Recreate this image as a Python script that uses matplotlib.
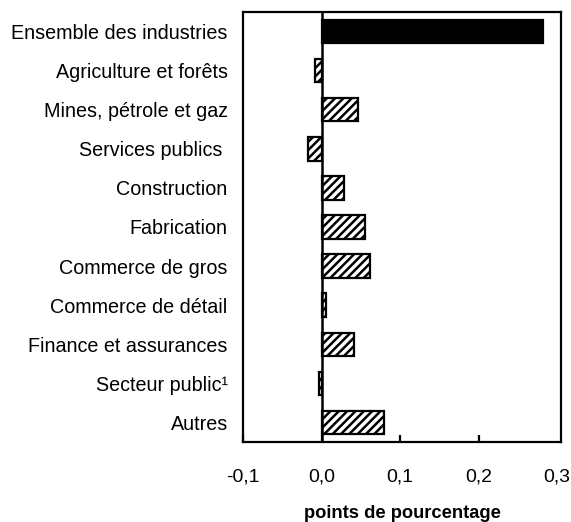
import numpy as np
import matplotlib
matplotlib.use('Agg')
import matplotlib.pyplot as plt
from matplotlib.ticker import FuncFormatter

plt.rcParams['font.family'] = ['Liberation Sans', 'DejaVu Sans']
plt.rcParams['hatch.linewidth'] = 1.8

# Data
industries = ['Ensemble des industries', 'Agriculture et forêts', 'Mines, pétrole et gaz',
              'Services publics ', 'Construction', 'Fabrication', 'Commerce de gros',
              'Commerce de détail', 'Finance et assurances', 'Secteur public¹', 'Autres']
points = [0.282, -0.008, 0.046, -0.017, 0.028, 0.056, 0.062, 0.006, 0.042, -0.003, 0.080]
xticks = [-0.1, 0.0, 0.1, 0.2, 0.3]

fig = plt.figure(figsize=(5.71, 5.22), dpi=100)
ax = fig.add_axes([243 / 571, 0.1533, 318 / 571, 0.8237])

y = np.arange(len(industries))
bars = ax.barh(y, points, height=0.6, color='white', edgecolor='black',
               linewidth=1.6, hatch='////')
bars[0].set_facecolor('black')
bars[0].set_hatch(None)

ax.axvline(0, color='black', linewidth=1.8)

ax.set_ylim(len(industries) - 0.5, -0.5)
ax.set_xlim(-0.1, 0.305)
ax.set_yticks(y)
ax.set_yticklabels(industries, fontsize=14.2)
ax.tick_params(axis='y', length=0, pad=11)
ax.set_xticks(xticks)
ax.xaxis.set_major_formatter(FuncFormatter(lambda v, p: f'{v:.1f}'.replace('.', ',').replace('-0,0', '0,0')))
ax.tick_params(axis='x', direction='in', length=5, width=1.6, pad=19, labelsize=14)
ax.get_xticklines()[-2].set_visible(False)

for s in ax.spines.values():
    s.set_linewidth(1.6)

ax.set_xlabel('points de pourcentage', fontsize=13.2, fontweight='bold', labelpad=14)

fig.savefig('out.png', dpi=100)
